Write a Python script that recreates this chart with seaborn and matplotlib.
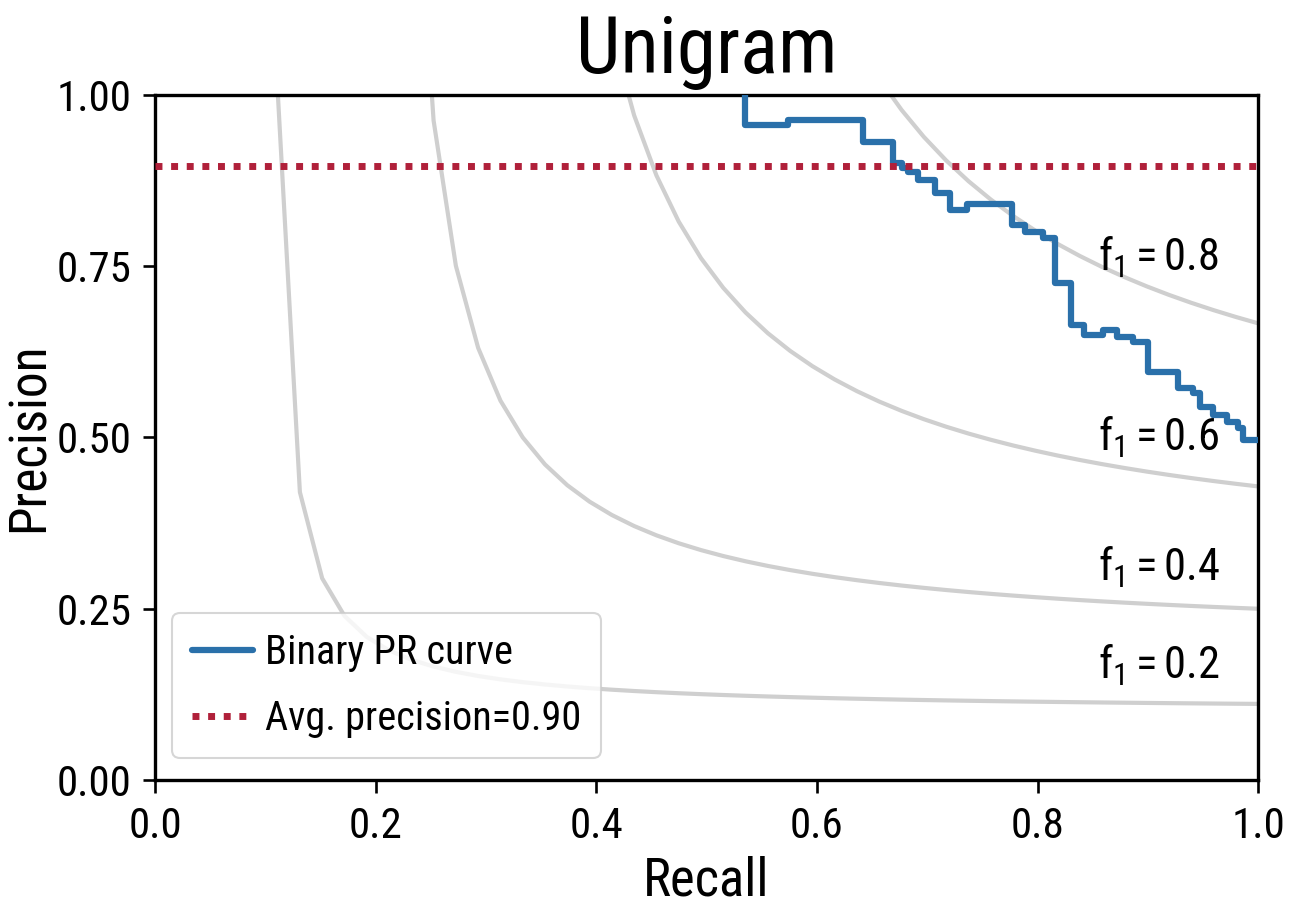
import numpy as np
import pandas as pd
import matplotlib
matplotlib.use("Agg")
import matplotlib.pyplot as plt
from matplotlib import font_manager
import seaborn as sns

# ---------------- data ----------------
title = "Unigram"
x_label = "Recall"
y_label = "Precision"
x_ticks = [0.0, 0.2, 0.4, 0.6, 0.8, 1.0]
y_ticks = [0.00, 0.25, 0.50, 0.75, 1.00]

pr_recall = [0.535, 0.535, 0.574, 0.642, 0.669, 0.677, 0.683, 0.692, 0.707,
             0.721, 0.736, 0.777, 0.789, 0.805, 0.816, 0.830, 0.842, 0.859,
             0.872, 0.887, 0.900, 0.927, 0.941, 0.947, 0.959, 0.972, 0.982,
             0.986, 1.000]
pr_precision = [1.000, 0.956, 0.963, 0.931, 0.900, 0.893, 0.888, 0.876, 0.857,
                0.832, 0.841, 0.810, 0.800, 0.791, 0.726, 0.664, 0.650, 0.657,
                0.647, 0.639, 0.596, 0.572, 0.565, 0.545, 0.533, 0.523, 0.514,
                0.497, 0.497]
avg_precision = 0.897
f_scores = [0.2, 0.4, 0.6, 0.8]
legend_labels = ["Binary PR curve", "Avg. precision=0.90"]

# ---------------- style ----------------
sns.set_style("ticks")
available = {f.name for f in font_manager.fontManager.ttflist}
prefs = ["Roboto Condensed", "Liberation Sans Narrow", "Roboto", "DejaVu Sans"]
fam = [p for p in prefs if p in available] or ["DejaVu Sans"]
plt.rcParams["font.family"] = fam
plt.rcParams["mathtext.fontset"] = "custom"
plt.rcParams["mathtext.rm"] = fam[0]
plt.rcParams["mathtext.it"] = fam[0]
plt.rcParams["axes.linewidth"] = 2.4
for k in ["text.color", "axes.labelcolor", "xtick.color", "ytick.color",
          "axes.edgecolor"]:
    plt.rcParams[k] = "black"

fig = plt.figure(figsize=(12.93, 9.22), dpi=100)
ax = fig.add_axes([0.120, 0.154, 0.853, 0.743])

# iso-F1 guide curves
grid = np.linspace(0.01, 1, 50)
for f in f_scores:
    yv = f * grid / (2 * grid - f)
    m = yv >= 0
    df_iso = pd.DataFrame({"r": grid[m], "p": yv[m]})
    sns.lineplot(data=df_iso, x="r", y="p", ax=ax, color="#cfcfcf", lw=3.0,
                 sort=False, estimator=None, zorder=1)
    ax.text(0.855, yv[45] + 0.035, r"$\mathrm{f_1=%0.1f}$" % f,
            fontsize=32, va="baseline", ha="left", zorder=2)

df_pr = pd.DataFrame({"recall": pr_recall, "precision": pr_precision})
sns.lineplot(data=df_pr, x="recall", y="precision", ax=ax, color="#2a70aa",
             lw=4.5, drawstyle="steps-post", sort=False, estimator=None,
             label=legend_labels[0], zorder=3)
ax.axhline(avg_precision, color="#b0203a", lw=5, linestyle=(0, (1, 1.25)),
           label=legend_labels[1], zorder=4)

ax.set_xlim(0, 1)
ax.set_ylim(0, 1)
ax.set_xticks(x_ticks)
ax.set_xticklabels([f"{v:.1f}" for v in x_ticks])
ax.set_yticks(y_ticks)
ax.set_yticklabels([f"{v:.2f}" for v in y_ticks])
ax.tick_params(axis="both", labelsize=31, length=9, width=1.9, color="black")
ax.tick_params(axis="x", pad=10)
ax.tick_params(axis="y", pad=8)
for s in ax.spines.values():
    s.set_visible(True)
    s.set_color("black")

ax.set_xlabel(x_label, fontsize=38, labelpad=6)
ax.set_ylabel(y_label, fontsize=37)
ax.yaxis.set_label_coords(-0.091, 0.5)
ax.set_title(title, fontsize=57, pad=16)

leg = ax.legend(loc="lower left", bbox_to_anchor=(17 / 1103, 22 / 685),
                borderaxespad=0, fontsize=29, handlelength=1.5,
                handletextpad=0.3, borderpad=0.5, labelspacing=0.67,
                frameon=True, fancybox=True)
leg.get_frame().set_edgecolor("#cccccc")
leg.get_frame().set_linewidth(1.5)

fig.savefig("out.png", dpi=100)
